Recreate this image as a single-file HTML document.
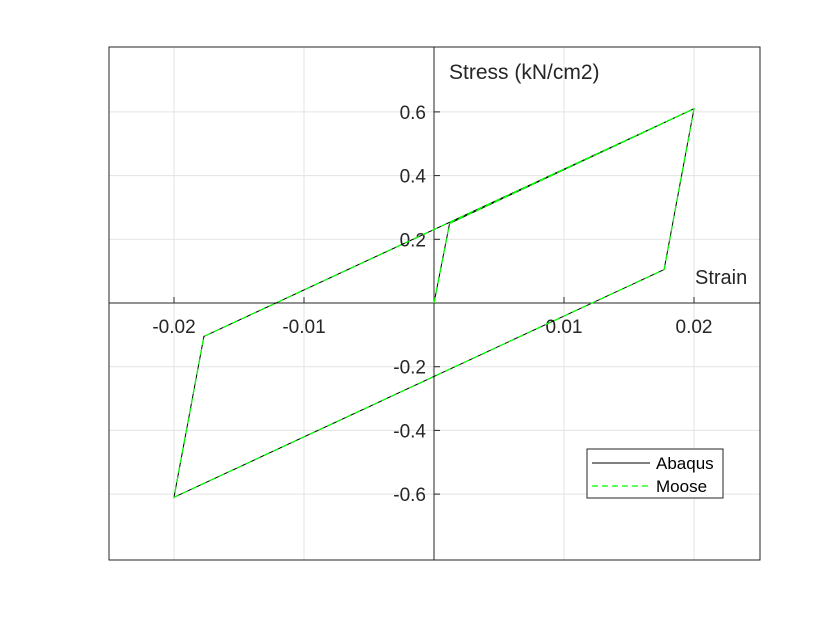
<!DOCTYPE html>
<html><head><meta charset="utf-8"><style>body{margin:0;background:#fff}svg{display:block;font-family:"Liberation Sans",sans-serif}</style></head>
<body>
<svg id="c" width="840" height="630"></svg>
<script>
const xTicks=[-0.02,-0.01,0.01,0.02];
const xTickLabels=["-0.02","-0.01","0.01","0.02"];
const yTicks=[-0.6,-0.4,-0.2,0.2,0.4,0.6];
const yTickLabels=["-0.6","-0.4","-0.2","0.2","0.4","0.6"];
const strain=[0,0.0012,0.02,0.0177,-0.02,-0.0177,0.02];
const abaqus=[0,0.25,0.61,0.105,-0.61,-0.105,0.61];
const moose=[0,0.25,0.61,0.105,-0.61,-0.105,0.61];
const L=109,R=760,T=47,B=560;
const X=v=>434+v*13000;
const Y=v=>303-v*318.5;
const s=document.getElementById('c');const NS='http://www.w3.org/2000/svg';
function mk(t,a,p){const e=document.createElementNS(NS,t);for(const k in a)e.setAttribute(k,a[k]);(p||s).appendChild(e);return e;}
let g=mk('g',{});


xTicks.forEach(v=>mk('line',{x1:X(v),x2:X(v),y1:T,y2:B,stroke:'#e3e3e3'},g));
yTicks.forEach(v=>mk('line',{x1:L,x2:R,y1:Y(v),y2:Y(v),stroke:'#e3e3e3'},g));
let bx=mk('rect',{x:L,y:T,width:R-L,height:B-T,fill:'none',stroke:'#262626'});


let ax=mk('line',{x1:L,x2:R,y1:Y(0),y2:Y(0),stroke:'#262626'});


let ay=mk('line',{x1:X(0),x2:X(0),y1:T,y2:B,stroke:'#262626'});


xTicks.forEach(v=>mk('line',{x1:X(v),x2:X(v),y1:Y(0),y2:Y(0)-6,stroke:'#262626'}));
yTicks.forEach(v=>mk('line',{x1:X(0),x2:X(0)+6,y1:Y(v),y2:Y(v),stroke:'#262626'}));
xTicks.forEach((v,i)=>{const t=mk('text',{x:X(v),y:Y(0)+30,'text-anchor':'middle','font-size':19,fill:'#262626'});t.textContent=xTickLabels[i];

});
yTicks.forEach((v,i)=>{const t=mk('text',{x:X(0)-8,y:Y(v)+7,'text-anchor':'end','font-size':19,fill:'#262626'});t.textContent=yTickLabels[i];

});
let yt=mk('text',{x:449,y:79,'font-size':21,fill:'#262626'});yt.textContent='Stress (kN/cm2)';


let xt=mk('text',{x:695,y:284,'font-size':20,fill:'#262626'});xt.textContent='Strain';


const pts=(a)=>strain.map((v,i)=>X(v)+','+Y(a[i])).join(' ');
let p1=mk('polyline',{points:pts(abaqus),fill:'none',stroke:'#000','stroke-width':1});


let p2=mk('polyline',{points:pts(moose),fill:'none',stroke:'#00ff00','stroke-width':1.3,'stroke-dasharray':'6,4'});


let lg=mk('g',{});


mk('rect',{x:587,y:449,width:136,height:49,fill:'#fff',stroke:'#262626'},lg);
mk('line',{x1:592,x2:650,y1:463,y2:463,stroke:'#000'},lg);
mk('line',{x1:592,x2:650,y1:486,y2:486,stroke:'#00ff00','stroke-width':1.3,'stroke-dasharray':'6,4'},lg);
let l1=mk('text',{x:656,y:469,'font-size':17,fill:'#000'},lg);l1.textContent='Abaqus';


let l2=mk('text',{x:656,y:492,'font-size':17,fill:'#000'},lg);l2.textContent='Moose';


</script>
</body></html>
